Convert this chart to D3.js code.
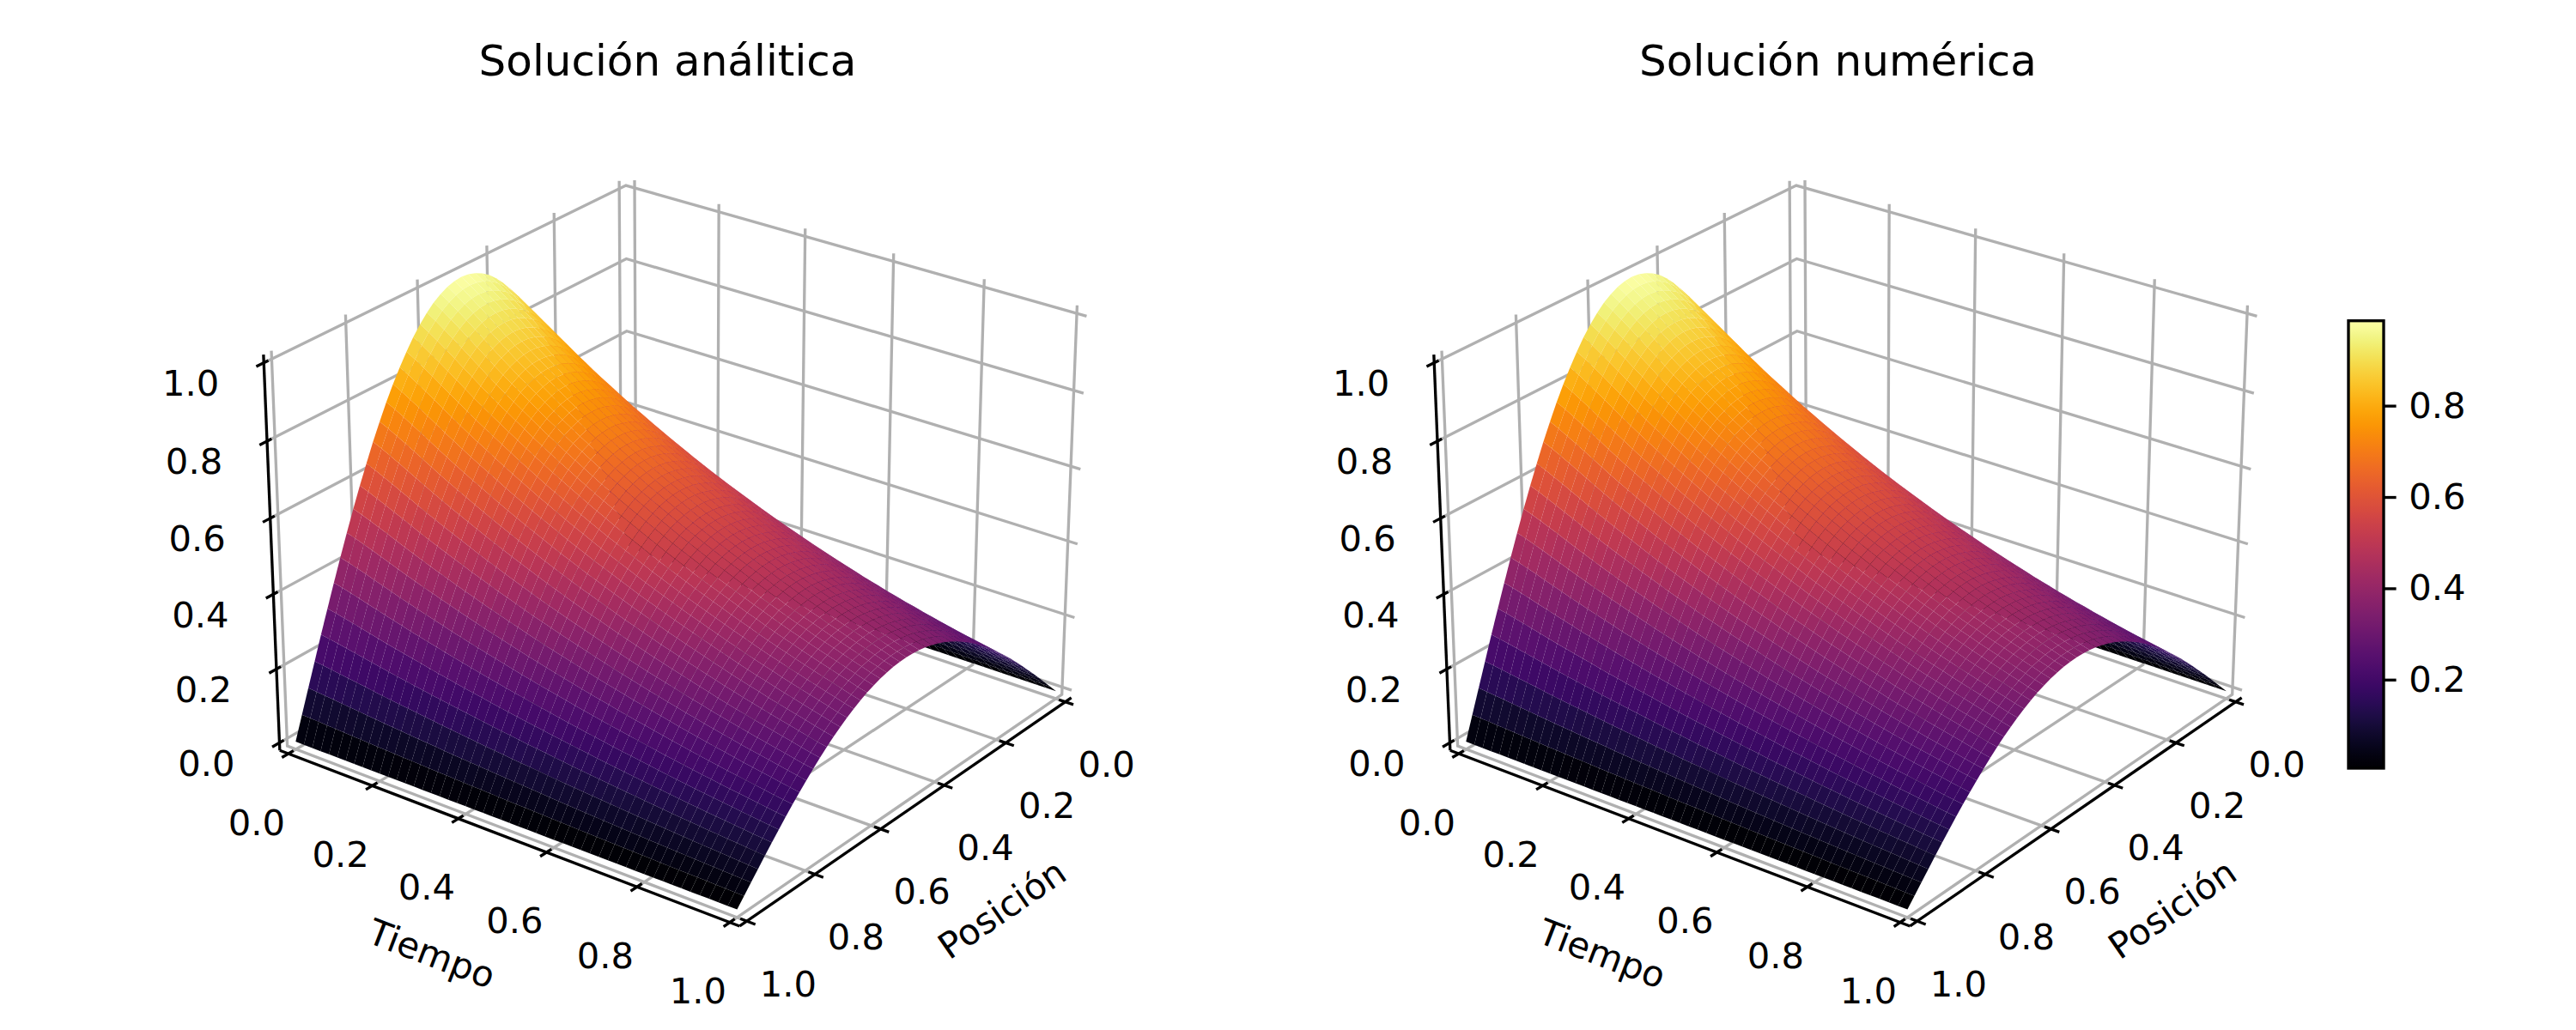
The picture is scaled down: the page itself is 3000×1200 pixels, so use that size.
<!DOCTYPE html>
<html>
<head>
<meta charset="utf-8">
<script src="https://cdn.jsdelivr.net/npm/d3@7"></script>
<style>
  body { margin: 0; background: white; }
  text { font-family: "DejaVu Sans"; fill: black; }
</style>
</head>
<body>
<div id="chart"></div>
<script>

// Height of the arch along Posicion, 51 samples
let profile = [0, .063, .125, .187, .249, .309, .368, .426, .482, .536, .588, .637, .685, .729, .771, .809, .844,
  .876, .905, .930, .951, .969, .982, .992, .998, 1, .998, .992, .982, .969, .951, .930, .905, .876, .844, .809,
  .771, .729, .685, .637, .588, .536, .482, .426, .368, .309, .249, .187, .125, .063, 0];

let decay = [.990, .975, .958, .941, .923, .905, .887, .869, .852, .835, .819, .803, .787, .771, .756, .741, .726,
  .712, .698, .684, .670, .657, .644, .631, .619, .607, .595, .583, .571, .560, .549, .538, .527, .517, .507, .497,
  .487, .477, .468, .458, .449, .440, .432, .423, .415, .407, .399, .391, .383, .375, .368];

let axisTicks = [0, 0.2, 0.4, 0.6, 0.8, 1];
let colorbarTicks = [0.2, 0.4, 0.6, 0.8];
let colorRange = [0.006, 0.986];
let titles = ["Solución análitica", "Solución numérica"];

let svg = d3.select("#chart").append("svg")
  .attr("width", 3000)
  .attr("height", 1200);

// camera, same idea as a matplotlib 3d axes
let elev = 26 * Math.PI / 180;
let azim = 37 * Math.PI / 180;
let dist = 10;
let focal = 5640;

let lineWidth = 3.33;
let tickFont = "41.7px";

let lim = [-1 / 48, 1 + 1 / 48];
let xBox = d3.scaleLinear().domain(lim).range([-0.595, 0.595]);
let yBox = d3.scaleLinear().domain(lim).range([-0.595, 0.595]);
let zBox = d3.scaleLinear().domain(lim).range([-0.451, 0.451]);

let color = d3.scaleSequential(d3.interpolateInferno).domain(colorRange);

// returns screen x, y and depth (bigger is closer) for a data point
function project(pos, time, z) {
  let x = xBox(pos), y = yBox(time), h = zBox(z);
  let sa = Math.sin(azim), ca = Math.cos(azim), se = Math.sin(elev), ce = Math.cos(elev);
  let right = -sa * x + ca * y;
  let up = -ca * se * x - sa * se * y + ce * h;
  let depth = ce * ca * x + ce * sa * y + se * h;
  return { x: focal * right / (dist - depth), y: -focal * up / (dist - depth), depth: depth };
}

let lo = lim[0], hi = lim[1];

function makeGrid(g) {
  let lines = [];
  axisTicks.forEach(function (v) {
    lines.push([project(hi, v, lo), project(lo, v, lo), project(lo, v, hi)]);
    lines.push([project(v, hi, lo), project(v, lo, lo), project(v, lo, hi)]);
    lines.push([project(hi, lo, v), project(lo, lo, v), project(lo, hi, v)]);
  });
  g.selectAll("path.grid")
    .data(lines)
    .enter()
    .append("path")
    .attr("class", "grid")
    .attr("fill", "none")
    .attr("stroke", "#b0b0b0")
    .attr("stroke-width", lineWidth)
    .attr("d", d3.line().x(d => d.x).y(d => d.y));
}

function makeSurface(g) {
  let cells = [];
  for (let j = 0; j < decay.length - 1; j++) {
    for (let i = 0; i < profile.length - 1; i++) {
      let idx = [[i, j], [i + 1, j], [i + 1, j + 1], [i, j + 1]];
      let corners = idx.map(c => project(c[0] / 50, c[1] / 50, profile[c[0]] * decay[c[1]]));
      let zs = idx.map(c => profile[c[0]] * decay[c[1]]);
      cells.push({ corners: corners, z: d3.mean(zs), depth: d3.mean(corners, c => c.depth) });
    }
  }
  cells.sort((a, b) => a.depth - b.depth);

  g.selectAll("polygon")
    .data(cells)
    .enter()
    .append("polygon")
    .attr("points", d => d.corners.map(c => c.x + "," + c.y).join(" "))
    .attr("fill", d => color(d.z));
}

function makeAxes(g) {
  let fmt = d3.format(".1f");
  let axes = [
    { // Tiempo
      line: [project(hi, lo, lo), project(hi, hi, lo)],
      tick: v => [project(hi - 0.014, v, lo), project(hi + 0.018, v, lo)],
      at: v => project(hi, v, lo),
      dx: -37, dy: 80
    },
    { // Posicion
      line: [project(lo, hi, lo), project(hi, hi, lo)],
      tick: v => [project(v, hi - 0.014, lo), project(v, hi + 0.018, lo)],
      at: v => project(v, hi, lo),
      dx: 48, dy: 73
    },
    { // z
      line: [project(hi, lo, lo), project(hi, lo, hi)],
      tick: v => [project(hi - 0.012, lo, v), project(hi + 0.02, lo, v)],
      at: v => project(hi, lo, v),
      dx: -85, dy: 24
    }
  ];

  axes.forEach(function (a) {
    g.append("line")
      .attr("x1", a.line[0].x).attr("y1", a.line[0].y)
      .attr("x2", a.line[1].x).attr("y2", a.line[1].y)
      .style("stroke", "black").style("stroke-width", lineWidth);

    g.selectAll(null)
      .data(axisTicks)
      .enter()
      .append("line")
      .attr("x1", d => a.tick(d)[0].x).attr("y1", d => a.tick(d)[0].y)
      .attr("x2", d => a.tick(d)[1].x).attr("y2", d => a.tick(d)[1].y)
      .style("stroke", "black").style("stroke-width", lineWidth);

    g.selectAll(null)
      .data(axisTicks)
      .enter()
      .append("text")
      .attr("x", d => a.at(d).x + a.dx)
      .attr("y", d => a.at(d).y + a.dy)
      .attr("text-anchor", "middle")
      .attr("dominant-baseline", "central")
      .style("font-size", tickFont)
      .text(d => fmt(d));
  });

  // axis names follow the direction of their axis on screen
  let names = [
    { text: "Tiempo", axis: axes[0], mid: project(hi, 0.5, lo), dx: -82, dy: 138 },
    { text: "Posición", axis: axes[1], mid: project(0.5, hi, lo), dx: 104, dy: 119 }
  ];
  names.forEach(function (n) {
    let p = n.axis.line[0], q = n.axis.line[1];
    let angle = Math.atan2(q.y - p.y, q.x - p.x) * 180 / Math.PI;
    if (angle > 90) angle -= 180;
    if (angle < -90) angle += 180;
    let x = n.mid.x + n.dx, y = n.mid.y + n.dy;
    g.append("text")
      .attr("transform", "translate(" + x + "," + y + ") rotate(" + angle + ")")
      .attr("text-anchor", "middle")
      .attr("dominant-baseline", "central")
      .style("font-size", tickFont)
      .text(n.text);
  });
}

function makePanel(ox, oy, title, titleX) {
  let g = svg.append("g").attr("transform", "translate(" + ox + "," + oy + ")");
  makeGrid(g);
  makeAxes(g);
  makeSurface(g);
  svg.append("text")
    .attr("x", titleX)
    .attr("y", 88)
    .attr("text-anchor", "middle")
    .style("font-size", "50px")
    .text(title);
}

makePanel(791.5, 619, titles[0], 777.5);
makePanel(2154.5, 619, titles[1], 2140.5);

// colorbar on the right
let barLeft = 2735, barWidth = 41, barTop = 373.7, barBottom = 895;
let barScale = d3.scaleLinear().domain(colorRange).range([barBottom, barTop]);

let stops = d3.range(0, 1.0001, 1 / 64);
let grad = svg.append("defs").append("linearGradient")
  .attr("id", "bar")
  .attr("x1", 0).attr("y1", 1).attr("x2", 0).attr("y2", 0);
grad.selectAll("stop")
  .data(stops)
  .enter()
  .append("stop")
  .attr("offset", d => d)
  .attr("stop-color", d => d3.interpolateInferno(d));

svg.append("rect")
  .attr("x", barLeft).attr("y", barTop)
  .attr("width", barWidth).attr("height", barBottom - barTop)
  .attr("fill", "url(#bar)")
  .attr("stroke", "black")
  .attr("stroke-width", lineWidth);

let barAxis = d3.axisRight(barScale)
  .tickValues(colorbarTicks)
  .tickFormat(d3.format(".1f"))
  .tickSize(14.6)
  .tickPadding(14.6);

let barG = svg.append("g")
  .attr("transform", "translate(" + (barLeft + barWidth) + ",0)")
  .call(barAxis);
barG.select(".domain").remove();
barG.selectAll("line").style("stroke", "black").style("stroke-width", lineWidth);
barG.selectAll("text").style("font-size", tickFont).style("font-family", "DejaVu Sans");

</script>
</body>
</html>
